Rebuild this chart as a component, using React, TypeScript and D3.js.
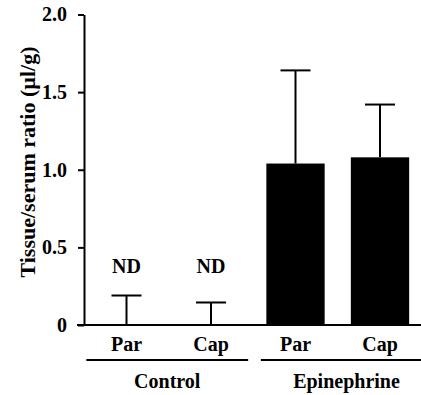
import React, { useEffect, useRef } from "react";
import * as d3 from "d3";

const conditions = ["Par", "Cap", "Par", "Cap"];
const groupOf = ["Control", "Control", "Epinephrine", "Epinephrine"];
const groups = ["Control", "Epinephrine"];
const means = [0, 0, 1.04, 1.08];
const errors = [0.19, 0.145, 0.6, 0.34];
const notDetected = [true, true, false, false];
const yTicks = [0, 0.5, 1.0, 1.5, 2.0];

const App = () => {
  const svgRef = useRef<SVGSVGElement>(null);

  useEffect(() => {
    const w = 421;
    const h = 395;
    const font = "'Liberation Serif', 'Times New Roman', serif";

    const svg = d3.select(svgRef.current).attr("width", w).attr("height", h);
    svg.selectAll("*").remove();

    const ids = conditions.map((c, i) => i);
    const xScale = d3
      .scaleBand<number>()
      .domain(ids)
      .range([84.25, 422.25])
      .paddingInner(0.31)
      .paddingOuter(0.155);
    const yScale = d3.scaleLinear().domain([0, 2]).range([325, 14.5]);
    const bw = xScale.bandwidth();

    // bars
    svg
      .selectAll(".bar")
      .data(ids)
      .join("rect")
      .attr("class", "bar")
      .attr("x", (i) => xScale(i)!)
      .attr("width", bw)
      .attr("y", (i) => yScale(means[i]))
      .attr("height", (i) => yScale(0) - yScale(means[i]))
      .attr("fill", "#000");

    // error bars (upper only)
    const err = svg.append("g").attr("stroke", "#000").attr("stroke-width", 2);
    err
      .selectAll(".stem")
      .data(ids)
      .join("line")
      .attr("x1", (i) => xScale(i)! + bw / 2)
      .attr("x2", (i) => xScale(i)! + bw / 2)
      .attr("y1", (i) => yScale(means[i]))
      .attr("y2", (i) => yScale(means[i] + errors[i]));
    err
      .selectAll(".cap")
      .data(ids)
      .join("line")
      .attr("x1", (i) => xScale(i)! + bw / 2 - 15)
      .attr("x2", (i) => xScale(i)! + bw / 2 + 15)
      .attr("y1", (i) => yScale(means[i] + errors[i]))
      .attr("y2", (i) => yScale(means[i] + errors[i]));

    // ND labels
    svg
      .selectAll(".nd")
      .data(ids.filter((i) => notDetected[i]))
      .join("text")
      .attr("x", (i) => xScale(i)! + bw / 2)
      .attr("y", 273)
      .attr("text-anchor", "middle")
      .attr("fill", "#000")
      .style("font-family", font)
      .style("font-weight", "bold")
      .style("font-size", "20px")
      .text("ND");

    // y axis
    const yAxis = d3
      .axisLeft(yScale)
      .tickValues(yTicks)
      .tickSizeOuter(0)
      .tickSizeInner(6)
      .tickPadding(11)
      .tickFormat((d) => (d === 0 ? "0" : d3.format(".1f")(d as number)));
    const ga = svg.append("g").attr("transform", "translate(84,0)").call(yAxis);
    ga.selectAll("path,line").attr("stroke", "#000").attr("stroke-width", 2);
    ga.selectAll("text")
      .style("font-family", font)
      .style("font-weight", "bold")
      .style("font-size", "20px")
      .attr("fill", "#000");

    // baseline
    svg
      .append("line")
      .attr("x1", 77)
      .attr("x2", w)
      .attr("y1", yScale(0))
      .attr("y2", yScale(0))
      .attr("stroke", "#000")
      .attr("stroke-width", 2);

    // category labels
    svg
      .selectAll(".cat")
      .data(ids)
      .join("text")
      .attr("x", (i) => xScale(i)! + bw / 2)
      .attr("y", 351)
      .attr("text-anchor", "middle")
      .attr("fill", "#000")
      .style("font-family", font)
      .style("font-weight", "bold")
      .style("font-size", "20px")
      .text((i) => conditions[i]);

    // group underlines and labels
    const pad: Record<string, [number, number]> = {
      Control: [11, 8],
      Epinephrine: [5.5, 23],
    };
    groups.forEach((g) => {
      const members = ids.filter((i) => groupOf[i] === g);
      const x0 = xScale(members[0])! - pad[g][0];
      const x1 = xScale(members[members.length - 1])! + bw + pad[g][1];
      svg
        .append("line")
        .attr("x1", x0)
        .attr("x2", x1)
        .attr("y1", 360)
        .attr("y2", 360)
        .attr("stroke", "#000")
        .attr("stroke-width", 2);
      svg
        .append("text")
        .attr("x", (x0 + x1) / 2)
        .attr("y", 388)
        .attr("text-anchor", "middle")
        .attr("fill", "#000")
        .style("font-family", font)
        .style("font-weight", "bold")
        .style("font-size", "20px")
        .text(g);
    });

    // y title
    svg
      .append("text")
      .attr("transform", "translate(35,162) rotate(-90)")
      .attr("text-anchor", "middle")
      .attr("fill", "#000")
      .style("font-family", font)
      .style("font-weight", "bold")
      .style("font-size", "22px")
      .text("Tissue/serum ratio (µl/g)");
  }, []);

  return (
    <svg
      ref={svgRef}
      style={{ position: "absolute", left: 0, top: 0, background: "#fff" }}
    />
  );
};

export default App;
